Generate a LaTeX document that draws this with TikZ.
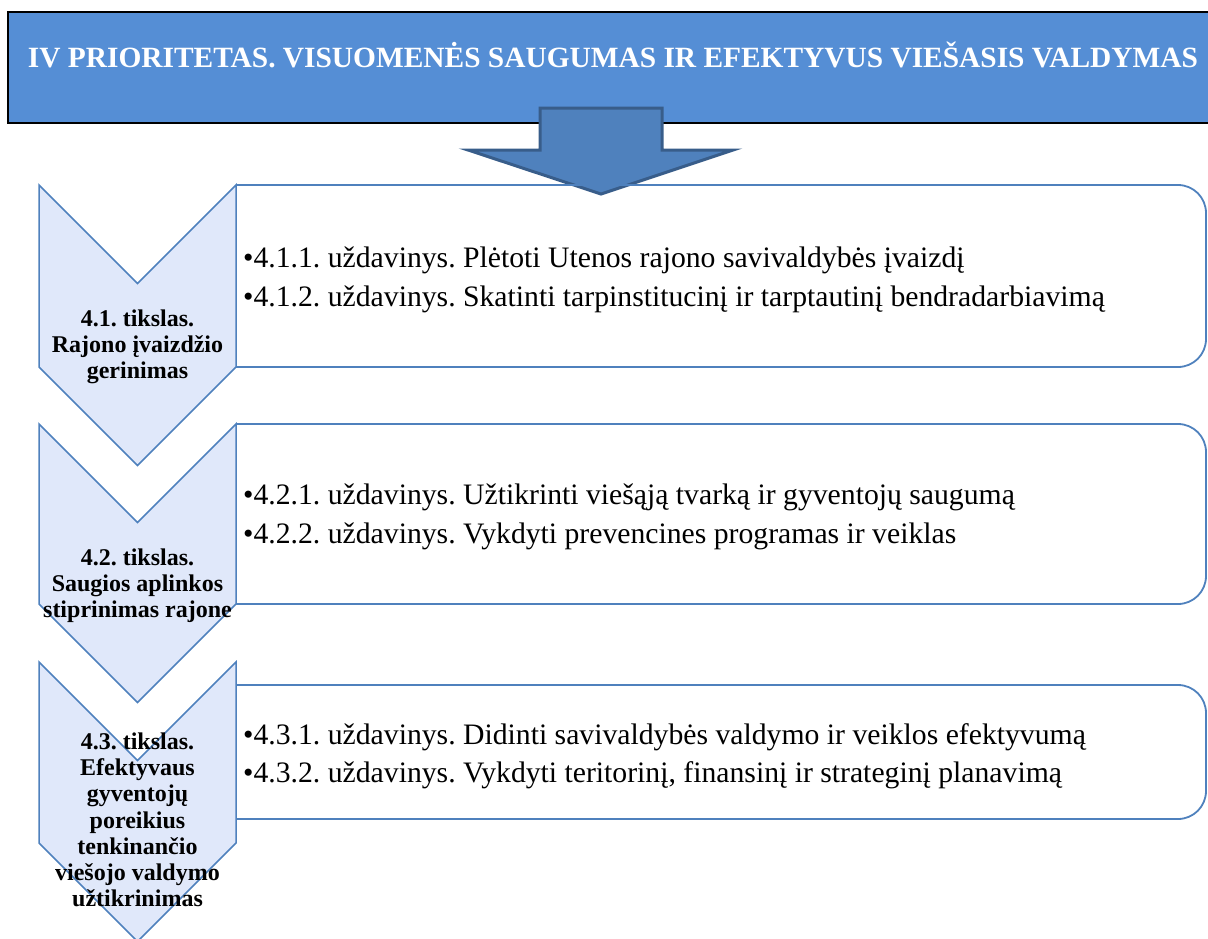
\documentclass[tikz,border=0pt]{standalone}
\usepackage{fontspec}
\setmainfont{Liberation Serif}
\frenchspacing
\definecolor{banner}{RGB}{85,142,213}
\definecolor{arrowfill}{RGB}{79,129,189}
\definecolor{arrowline}{RGB}{56,93,138}
\definecolor{chevfill}{RGB}{224,232,250}
\definecolor{lineblue}{RGB}{79,129,189}
\tikzset{
  chev/.style={fill=chevfill,draw=lineblue,line width=1.5pt,line join=miter},
  taskbox/.style={draw=lineblue,line width=1.8pt,rounded corners=28pt},
  goaltext/.style={font=\fontsize{24}{26.2}\selectfont\bfseries,align=center,inner sep=0pt},
  tasktext/.style={font=\fontsize{29.7}{38.5}\selectfont,align=left,anchor=west,inner sep=0pt},
}
\begin{document}
\begin{tikzpicture}[x=1pt,y=-1pt]
\useasboundingbox (0,0) rectangle (1208,938);
% banner
\draw[fill=banner,draw=black,line width=1.2pt] (8,12) rectangle (1215,123);
\node[text=white,font=\fontsize{29.4}{32}\selectfont\bfseries,inner sep=0pt] (title) at (613,54.5) {IV PRIORITETAS. VISUOMENĖS SAUGUMAS IR EFEKTYVUS VIEŠASIS VALDYMAS};
% arrow
\draw[fill=arrowfill,draw=arrowline,line width=3pt,line join=miter] (540,108) -- (662,108) -- (662,150) -- (733,150) -- (601,194) -- (468,150) -- (540,150) -- cycle;
% boxes
\draw[taskbox] (236,185) -- (1206,185) -- (1206,367) -- (236,367);
\draw[taskbox] (236,424) -- (1206,424) -- (1206,604) -- (236,604);
\draw[taskbox] (236,685) -- (1206,685) -- (1206,819) -- (236,819);
% chevrons
\draw[chev] (39,185) -- (137.5,283.5) -- (236,185) -- (236,367) -- (137.5,465.5) -- (39,367) -- cycle;
\draw[chev] (39,424) -- (137.5,522.5) -- (236,424) -- (236,604) -- (137.5,702.5) -- (39,604) -- cycle;
\draw[chev] (39,662) -- (137.5,760.5) -- (236,662) -- (236,843) -- (137.5,941.5) -- (39,843) -- cycle;
% goal texts
\node[goaltext] (g1) at (137.5,347) {4.1. tikslas.\\Rajono įvaizdžio\\gerinimas};
\node[goaltext] (g2) at (137.5,586) {4.2. tikslas.\\Saugios aplinkos\\stiprinimas rajone};
\node[goaltext] (g3) at (137.5,820) {4.3. tikslas.\\Efektyvaus\\gyventojų\\poreikius\\tenkinančio\\viešojo valdymo\\užtikrinimas};
% task texts
\node[tasktext] (t1) at (243,280) {•4.1.1. uždavinys. Plėtoti Utenos rajono savivaldybės įvaizdį\\•4.1.2. uždavinys. Skatinti tarpinstitucinį ir tarptautinį bendradarbiavimą};
\node[tasktext] (t2) at (243,517) {•4.2.1. uždavinys. Užtikrinti viešąją tvarką ir gyventojų saugumą\\•4.2.2. uždavinys. Vykdyti prevencines programas ir veiklas};
\node[tasktext] (t3) at (243,756) {•4.3.1. uždavinys. Didinti savivaldybės valdymo ir veiklos efektyvumą\\•4.3.2. uždavinys. Vykdyti teritorinį, finansinį ir strateginį planavimą};
\end{tikzpicture}
\end{document}
